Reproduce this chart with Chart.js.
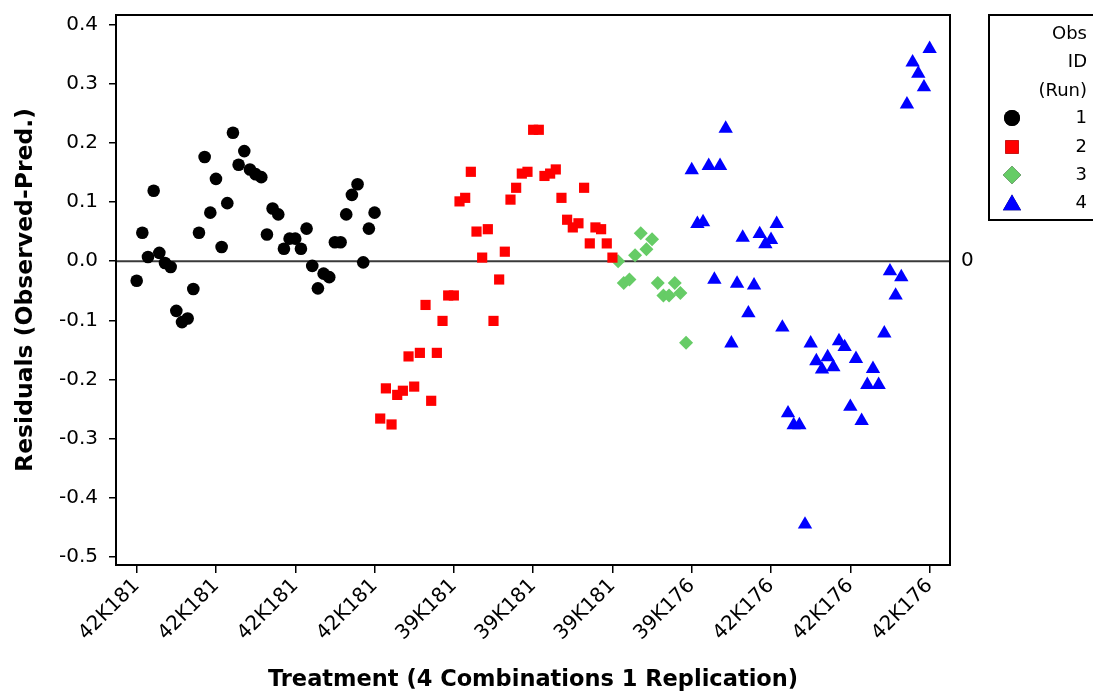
<!DOCTYPE html>
<html>
<head>
<meta charset="utf-8">
<script src="https://cdn.jsdelivr.net/npm/chart.js@4/dist/chart.umd.min.js"></script>
<style>
  html, body { margin: 0; padding: 0; background: #fff; }
  #wrap { width: 1093px; height: 695px; position: relative; }
</style>
</head>
<body>
<div id="wrap"><canvas id="chart" width="1093" height="695"></canvas></div>
<script>
// Residuals per run, in row order (rows are consecutive: run 1, then 2, 3, 4)
const run1 = [-0.033, 0.048, 0.007, 0.119, 0.014, -0.003, -0.010, -0.084, -0.103, -0.097,
  -0.047, 0.048, 0.176, 0.082, 0.139, 0.024, 0.098, 0.217, 0.163, 0.186,
  0.155, 0.147, 0.142, 0.045, 0.089, 0.079, 0.021, 0.038, 0.038, 0.021,
  0.055, -0.008, -0.046, -0.021, -0.027, 0.032, 0.032, 0.079, 0.112, 0.130,
  -0.002, 0.055, 0.082];
const run2 = [-0.266, -0.215, -0.276, -0.226, -0.219, -0.161, -0.212, -0.155, -0.074, -0.236,
  -0.155, -0.101, -0.058, -0.058, 0.101, 0.107, 0.151, 0.050, 0.006, 0.054,
  -0.101, -0.031, 0.016, 0.104, 0.124, 0.148, 0.151, 0.222, 0.222, 0.144,
  0.148, 0.155, 0.107, 0.070, 0.057, 0.064, 0.124, 0.030, 0.057, 0.054,
  0.030, 0.006];
const run3 = [0.000, -0.037, -0.031, 0.010, 0.047, 0.020, 0.037, -0.037, -0.058, -0.058,
  -0.037, -0.054, -0.138];
const run4 = [0.154, 0.063, 0.066, 0.161, -0.031, 0.161, 0.224, -0.139, -0.038, 0.040,
  -0.088, -0.041, 0.046, 0.029, 0.036, 0.063, -0.112, -0.257, -0.277, -0.277,
  -0.445, -0.139, -0.169, -0.183, -0.162, -0.179, -0.135, -0.145, -0.246, -0.165,
  -0.270, -0.209, -0.182, -0.209, -0.122, -0.017, -0.058, -0.027, 0.265, 0.336,
  0.317, 0.294, 0.359];

const runNames = ['1', '2', '3', '4'];
const runColors = ['#000000', '#ff0000', '#66cc66', '#0000ff'];
const runShapes = ['circle', 'rect', 'rectRot', 'triangle'];
const runRadius = [6.3, 7.2, 7, 8.3];

const tickRows = [1, 15, 29, 43, 57, 71, 85, 99, 113, 127, 141];
const tickLabels = ['42K181', '42K181', '42K181', '42K181', '39K181', '39K181', '39K181',
  '39K176', '42K176', '42K176', '42K176'];
const yTicks = [-0.5, -0.4, -0.3, -0.2, -0.1, 0.0, 0.1, 0.2, 0.3, 0.4];

// build point lists with consecutive row numbers
const runs = [run1, run2, run3, run4];
let row = 1;
const datasets = runs.map((vals, i) => {
  const pts = vals.map(v => ({ x: row++, y: v }));
  return {
    label: runNames[i],
    data: pts,
    pointStyle: runShapes[i],
    pointRadius: runRadius[i],
    pointHoverRadius: runRadius[i],
    backgroundColor: runColors[i],
    borderColor: runColors[i],
    borderWidth: 0,
    showLine: false
  };
});

const FONT = 'DejaVu Sans';

const decorPlugin = {
  id: 'decor',
  beforeDatasetsDraw(chart) {
    const { ctx, chartArea: a, scales: { y } } = chart;
    const y0 = y.getPixelForValue(0);
    ctx.save();
    ctx.strokeStyle = '#3a3a3a';
    ctx.lineWidth = 2;
    ctx.beginPath();
    ctx.moveTo(a.left, y0);
    ctx.lineTo(a.right, y0);
    ctx.stroke();
    ctx.restore();
  },
  afterDraw(chart) {
    const { ctx, chartArea: a, scales: { y } } = chart;
    ctx.save();
    // frame around the plot
    ctx.strokeStyle = '#000';
    ctx.lineWidth = 2;
    ctx.strokeRect(a.left, a.top, a.right - a.left, a.bottom - a.top);

    // reference line label
    ctx.fillStyle = '#000';
    ctx.font = '20px "' + FONT + '"';
    ctx.textBaseline = 'middle';
    ctx.textAlign = 'left';
    ctx.fillText('0', 961, y.getPixelForValue(0));

    // legend
    ctx.lineWidth = 2;
    ctx.strokeRect(989, 15, 200, 205);
    ctx.font = '18px "' + FONT + '"';
    ctx.textAlign = 'right';
    ctx.fillText('Obs', 1087, 34);
    ctx.fillText('ID', 1087, 62);
    ctx.fillText('(Run)', 1087, 91);
    const rowsY = [118, 147, 175, 203];
    const legR = [8, 9.5, 9, 10.5];
    runNames.forEach((n, i) => {
      ctx.fillStyle = '#000';
      ctx.fillText(n, 1087, rowsY[i]);
      Chart.helpers.drawPoint(ctx, {
        pointStyle: runShapes[i], radius: legR[i], rotation: 0,
        borderWidth: 0, backgroundColor: runColors[i], borderColor: runColors[i]
      }, 1012, rowsY[i] + (runShapes[i] === 'triangle' ? 2 : 0));
      ctx.fillStyle = runColors[i];
      ctx.fill();
    });
    ctx.restore();
  }
};

new Chart(document.getElementById('chart'), {
  type: 'scatter',
  data: { datasets },
  options: {
    responsive: false,
    animation: false,
    events: [],
    layout: { padding: { top: 15, right: 143, bottom: 0, left: 0 } },
    plugins: { legend: { display: false }, tooltip: { enabled: false } },
    scales: {
      x: {
        type: 'linear',
        min: -2.65,
        max: 144.6,
        afterBuildTicks: s => { s.ticks = tickRows.map(v => ({ value: v })); },
        afterFit: s => { s.height = 130; s.paddingLeft = 0; s.paddingRight = 0; },
        grid: { drawOnChartArea: false, drawTicks: true, tickLength: 8, color: '#000', lineWidth: 1.5 },
        border: { display: true, color: '#000', width: 2 },
        ticks: {
          color: '#000',
          font: { family: FONT, size: 20 },
          minRotation: 45,
          maxRotation: 45,
          padding: 1,
          callback: v => tickLabels[tickRows.indexOf(v)]
        },
        title: {
          display: true,
          text: 'Treatment (4 Combinations 1 Replication)',
          color: '#000',
          font: { family: FONT, size: 22.5, weight: 'bold' },
          padding: { top: 0, bottom: 1 }
        }
      },
      y: {
        min: -0.5135,
        max: 0.416,
        afterBuildTicks: s => { s.ticks = yTicks.map(v => ({ value: v })); },
        afterFit: s => { s.width = 116; s.paddingTop = 0; s.paddingBottom = 0; },
        grid: { drawOnChartArea: false, drawTicks: true, tickLength: 7, color: '#000', lineWidth: 1.5 },
        border: { display: true, color: '#000', width: 2 },
        ticks: {
          color: '#000',
          font: { family: FONT, size: 20 },
          padding: 11,
          callback: v => v.toFixed(1)
        },
        title: {
          display: true,
          text: 'Residuals (Observed-Pred.)',
          color: '#000',
          font: { family: FONT, size: 23.5, weight: 'bold' },
          padding: { top: 12, bottom: 0 }
        }
      }
    }
  },
  plugins: [decorPlugin]
});
</script>
</body>
</html>
